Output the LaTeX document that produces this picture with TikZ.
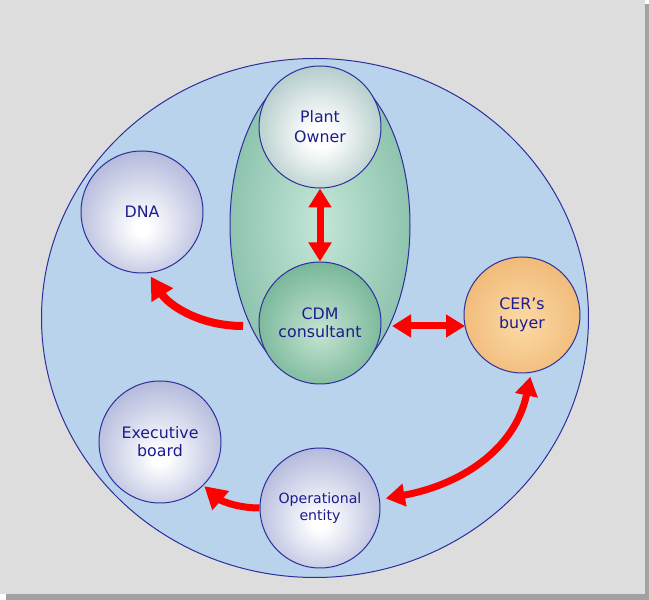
\documentclass[tikz,border=0pt]{standalone}
\usepackage{fontspec}
\setmainfont{DejaVu Sans}
\usetikzlibrary{arrows.meta,shapes.geometric}

% colours
\definecolor{panel}{HTML}{DDDDDD}
\definecolor{panelshadow}{HTML}{A2A2A2}
\definecolor{world}{HTML}{B9D3EC}
\definecolor{rim}{HTML}{2E2E9C}
\definecolor{ink}{HTML}{1C1C8E}
\definecolor{flow}{HTML}{FF0000}

% sphere shadings: light centre fading to the rim colour
\pgfdeclareradialshading{bluesphere}{\pgfpoint{0bp}{-7bp}}{%
  color(0bp)=(white); color(3bp)=(white);
  color(28bp)=(rgb,255:red,180;green,186;blue,220);
  color(50bp)=(rgb,255:red,122;green,132;blue,188)}
\pgfdeclareradialshading{tealsphere}{\pgfpoint{0bp}{-4bp}}{%
  color(0bp)=(white); color(5bp)=(white);
  color(30bp)=(rgb,255:red,170;green,198;blue,196);
  color(50bp)=(rgb,255:red,86;green,134;blue,130)}
\pgfdeclareradialshading{greensphere}{\pgfpoint{0bp}{-4bp}}{%
  color(0bp)=(rgb,255:red,196;green,228;blue,210);
  color(30bp)=(rgb,255:red,112;green,178;blue,146);
  color(50bp)=(rgb,255:red,56;green,140;blue,102)}
\pgfdeclareradialshading{orangesphere}{\pgfpoint{0bp}{-4bp}}{%
  color(0bp)=(rgb,255:red,252;green,218;blue,166); color(50bp)=(rgb,255:red,230;green,160;blue,82)}
\pgfdeclareradialshading{pairshade}{\pgfpoint{0bp}{0bp}}{%
  color(0bp)=(rgb,255:red,196;green,230;blue,215); color(50bp)=(rgb,255:red,88;green,162;blue,134)}

\tikzset{
  party/.style={circle, draw=rim, line width=1pt, minimum size=122pt, inner sep=0pt,
    align=center, text=ink, font=\fontsize{15.8}{19}\selectfont},
  bluenode/.style={party, shading=bluesphere},
  flowline/.style={draw=flow, line width=7pt},
  twoway/.style={flowline, {Triangle[length=19pt,width=22pt]}-{Triangle[length=19pt,width=22pt]}},
  oneway/.style={flowline, -{Triangle[length=22pt,width=24pt]}},
}

\begin{document}
\begin{tikzpicture}[x=1pt,y=1pt]
\useasboundingbox (0,0) rectangle (649,600);
\fill[white] (0,0) rectangle (649,600);
% framed panel with its drop shadow
\fill[panelshadow] (6,0) rectangle (649,596);
\fill[panel] (0,6) rectangle (645,600);

% the surrounding world
\node[ellipse, draw=rim, line width=1pt, fill=world, minimum width=547pt,
      minimum height=519pt, inner sep=0pt] (world) at (315,282) {};

% project pair: owner and consultant
\node[ellipse, draw=rim, line width=1pt, shading=pairshade, minimum width=180pt,
      minimum height=316pt, inner sep=0pt] (pair) at (320,375) {};
\node[party, shading=tealsphere, font=\fontsize{15.8}{20}\selectfont] (owner) at (320,473) {Plant\\Owner};
\node[party, shading=greensphere, font=\fontsize{15.8}{18.5}\selectfont] (cdm) at (320,277) {CDM\\consultant};

% other parties
\node[bluenode] (dna) at (142,388) {DNA};
\node[party, shading=orangesphere, minimum size=116pt] (buyer) at (522,285) {CER’s\\buyer};
\node[bluenode, font=\fontsize{15.8}{18}\selectfont] (board) at (160,158) {Executive\\board};
\node[bluenode, minimum size=120pt, font=\fontsize{14.1}{17.5}\selectfont] (ops) at (320,92) {Operational\\entity};

% relations
\draw[twoway] (owner.south) -- (cdm.north);
\coordinate (pairright) at (392,274);
\coordinate (buyerleft) at (465,274);
\draw[twoway] (pairright) -- (buyerleft);

\coordinate (dnaout) at (243,274);
\draw[oneway, line width=8pt, shorten >=4pt] (dnaout) .. controls (198,274) and (168,296) .. (dna.-84);

\draw[oneway, shorten >=1pt] (ops.west) .. controls (236,92) and (220,100) .. (board.-45);

\draw[twoway, shorten <=4pt, shorten >=6pt] (buyer.-81) .. controls (515,150) and (460,115) .. (ops.8);
\end{tikzpicture}
\end{document}
